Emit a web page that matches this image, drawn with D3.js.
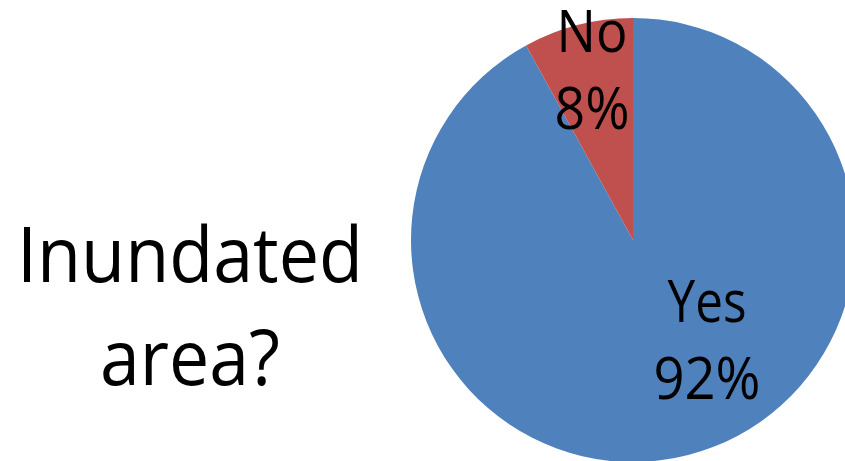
<!DOCTYPE html>
<html>
<head>
<meta charset="utf-8">
<script src="https://cdn.jsdelivr.net/npm/d3@7"></script>
<style>
  html, body { margin: 0; padding: 0; background: #fff; overflow: hidden; }
  svg { display: block; }
  text { font-family: "Open Sans", "Liberation Sans", sans-serif; fill: #000; }
</style>
</head>
<body>
<svg id="chart" width="845" height="461"></svg>
<script>
// Survey answers, in the order they are drawn clockwise from 12 o'clock
const categories = ["Yes", "No"];
const shares = [92, 8];
const colors = ["#4F81BD", "#C0504D"];
const titleLines = ["Inundated", "area?"];

const svg = d3.select("#chart");
const W = 845, H = 461;

// Pie geometry
const cx = 633, cy = 240, radius = 222;

const pie = d3.pie().sort(null).value(d => d.value);
const arc = d3.arc().innerRadius(0).outerRadius(radius);

const data = categories.map((c, i) => ({ name: c, value: shares[i], color: colors[i] }));
const arcs = pie(data);

const g = svg.append("g").attr("transform", `translate(${cx},${cy})`);

g.selectAll("path.slice")
  .data(arcs)
  .join("path")
  .attr("class", "slice")
  .attr("d", arc)
  .attr("fill", d => d.data.color);

// Data labels: category on the first line, percentage below
const total = d3.sum(shares);
const labelPos = {
  Yes: { x: 74, y: 82, w1: 79, w2: 107 },
  No:  { x: -41, y: -188, w1: 71, w2: 75 }
};
const labelSize = 58, labelGap = 77;

arcs.forEach(d => {
  const p = labelPos[d.data.name];
  const pct = Math.round(d.data.value / total * 100) + "%";
  g.append("text")
    .attr("x", p.x).attr("y", p.y)
    .attr("text-anchor", "middle")
    .attr("font-size", labelSize)
    .attr("textLength", p.w1).attr("lengthAdjust", "spacingAndGlyphs")
    .text(d.data.name);
  g.append("text")
    .attr("x", p.x).attr("y", p.y + labelGap)
    .attr("text-anchor", "middle")
    .attr("font-size", labelSize)
    .attr("textLength", p.w2).attr("lengthAdjust", "spacingAndGlyphs")
    .text(pct);
});

// Chart title on the left, two centred lines
const titleWidths = [346, 180];
svg.selectAll("text.title")
  .data(titleLines)
  .join("text")
  .attr("class", "title")
  .attr("x", 190)
  .attr("y", (d, i) => 282 + i * 103)
  .attr("text-anchor", "middle")
  .attr("font-size", 76)
  .attr("textLength", (d, i) => titleWidths[i])
  .attr("lengthAdjust", "spacingAndGlyphs")
  .text(d => d);
</script>
</body>
</html>
